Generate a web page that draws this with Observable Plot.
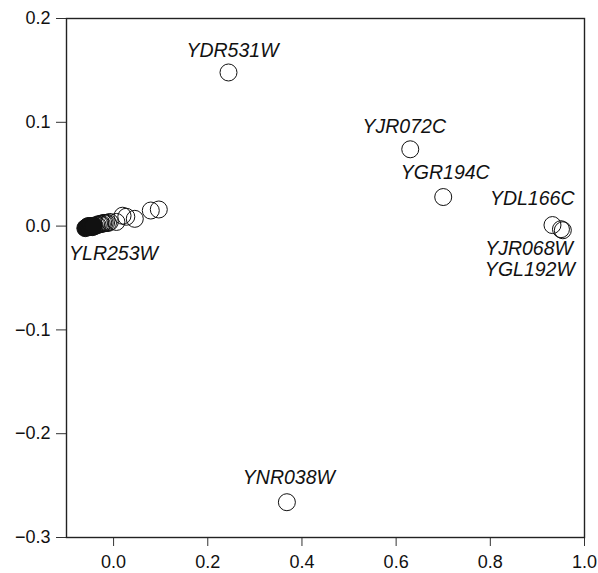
<!DOCTYPE html>
<html>
<head>
<meta charset="utf-8">
<script src="https://cdn.jsdelivr.net/npm/d3@7"></script>
<script src="https://cdn.jsdelivr.net/npm/@observablehq/plot@0.6"></script>
<style>
  html, body { margin: 0; padding: 0; background: #fff; }
  #chart svg { display: block; }
</style>
</head>
<body>
<div id="chart"></div>
<script>
// Labelled genes
const geneNames = ["YDR531W", "YJR072C", "YGR194C", "YDL166C", "YJR068W", "YGL192W", "YNR038W", "YLR253W"];
const geneX     = [0.244, 0.630, 0.700, 0.932, 0.950, 0.954, 0.368, -0.050];
const geneY     = [0.148, 0.074, 0.028, 0.001, -0.003, -0.004, -0.266, 0.000];

// Dense core of the cluster near the origin (overlapping so much they appear filled)
const coreX = [-0.060, -0.057, -0.054, -0.051, -0.048, -0.045, -0.042];
const coreY = [-0.002, -0.001, 0.000, -0.001, 0.000, -0.001, 0.000];

// Remaining open circles of the cluster
const clusterX = [-0.040, -0.037, -0.034, -0.031, -0.028, -0.025, -0.022, -0.019, -0.016, -0.012, -0.008,
                  0.006, 0.019, 0.027, 0.045, 0.079, 0.096];
const clusterY = [0.000, 0.001, 0.001, 0.002, 0.002, 0.002, 0.003, 0.003, 0.003, 0.003, 0.004,
                  0.004, 0.010, 0.009, 0.007, 0.015, 0.016];

const xTicks = [0, 0.2, 0.4, 0.6, 0.8, 1.0];
const yTicks = [-0.3, -0.2, -0.1, 0.0, 0.1, 0.2];

const genes = geneNames.map((n, i) => ({name: n, x: geneX[i], y: geneY[i]}));
const core = coreX.map((x, i) => ({x, y: coreY[i]}));
const cluster = clusterX.map((x, i) => ({x, y: clusterY[i]}));

// label placement styles (offsets in px)
const labelStyle = {
  YDR531W: {anchor: "middle", dx: 4, dy: -22},
  YJR072C: {anchor: "middle", dx: -6, dy: -23},
  YGR194C: {anchor: "middle", dx: 2, dy: -24},
  YDL166C: {anchor: "end", dx: 22, dy: -26},
  YJR068W: {anchor: "end", dx: 12, dy: 20},
  YGL192W: {anchor: "end", dx: 12, dy: 39},
  YNR038W: {anchor: "middle", dx: 2, dy: -24},
  YLR253W: {anchor: "start", dx: -21, dy: 28}
};

const font = "'Liberation Sans', Arial, Helvetica, sans-serif";

const labelMarks = geneNames.map(n => {
  const s = labelStyle[n];
  return Plot.text(genes.filter(d => d.name === n), {
    x: "x", y: "y", text: "name",
    textAnchor: s.anchor, dx: s.dx, dy: s.dy,
    fontSize: 19.5, fontStyle: "italic", fill: "#111"
  });
});

const chart = Plot.plot({
  width: 598,
  height: 573,
  marginLeft: 66,
  marginRight: 14,
  marginTop: 18,
  marginBottom: 36,
  style: {fontFamily: font, background: "#fff", color: "#111"},
  x: {domain: [-0.1, 1.0], ticks: xTicks, tickFormat: d3.format(".1f"), label: null,
      tickSize: 9, tickPadding: 9},
  y: {domain: [-0.3, 0.2], ticks: yTicks, tickFormat: d3.format(".1f"), label: null,
      tickSize: 10, tickPadding: 6},
  marks: [
    Plot.axisX({ticks: xTicks, tickFormat: d3.format(".1f"), tickSize: 9, tickPadding: 9, fontSize: 18, label: null, stroke: "#333"}),
    Plot.axisY({ticks: yTicks, tickFormat: d3.format(".1f"), tickSize: 10, tickPadding: 6, fontSize: 18, label: null, stroke: "#333"}),
    Plot.frame({stroke: "#222", strokeWidth: 1.4}),
    Plot.dot(core, {x: "x", y: "y", r: 8.5, fill: "#111", stroke: "#111", strokeWidth: 1}),
    Plot.dot(cluster, {x: "x", y: "y", r: 8.5, fill: "none", stroke: "#111", strokeWidth: 1}),
    Plot.dot(genes, {x: "x", y: "y", r: 8.5, fill: "none", stroke: "#111", strokeWidth: 1}),
    ...labelMarks
  ]
});

document.getElementById("chart").appendChild(chart);
</script>
</body>
</html>
